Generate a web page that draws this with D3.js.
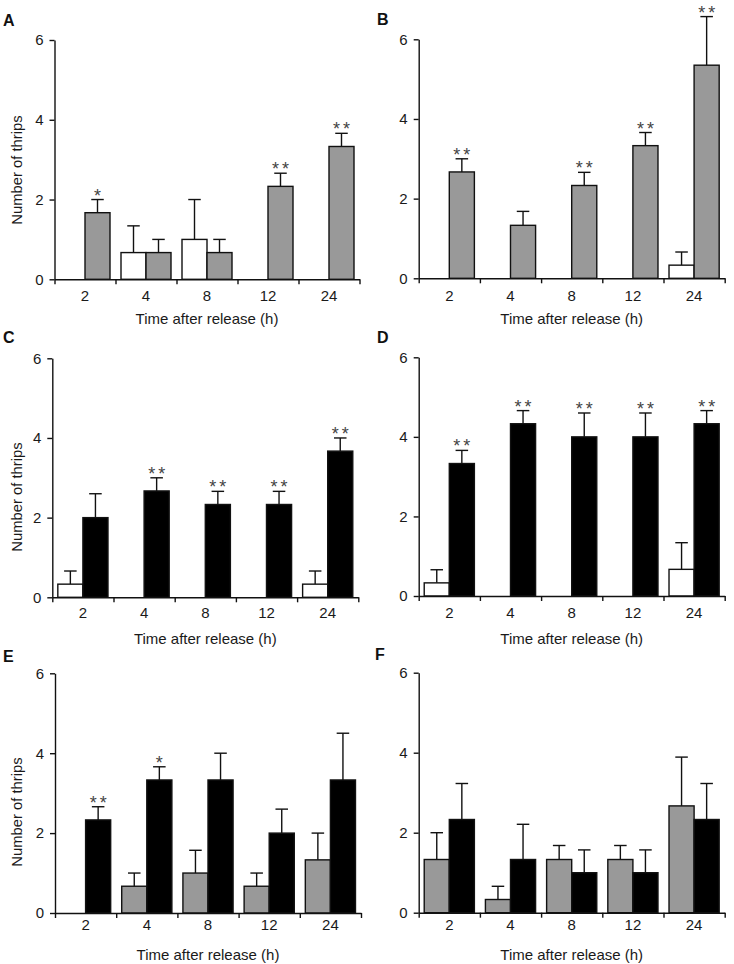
<!DOCTYPE html>
<html>
<head>
<meta charset="utf-8">
<script src="https://cdn.jsdelivr.net/npm/d3@7"></script>
<style>
  html, body { margin: 0; padding: 0; background: #fff; }
  svg { display: block; font-family: "Liberation Sans", Arial, sans-serif; }
</style>
</head>
<body>
<svg id="chart" width="734" height="964"></svg>
<script>
// ---------------- data ----------------
const categories = ["2", "4", "8", "12", "24"];
const yTickValues = [0, 2, 4, 6];
const xTitle = "Time after release (h)";
const yTitle = "Number of thrips";

// Panel A (white vs gray)
const aFirst = [0, 0.67, 1.0, 0, 0];
const aFirstErr = [0, 0.67, 1.0, 0, 0];
const aSecond = [1.67, 0.67, 0.67, 2.33, 3.33];
const aSecondErr = [0.33, 0.33, 0.33, 0.33, 0.33];
const aSig = ["*", "", "", "**", "**"];

// Panel B (white vs gray)
const bFirst = [0, 0, 0, 0, 0.33];
const bFirstErr = [0, 0, 0, 0, 0.33];
const bSecond = [2.67, 1.33, 2.33, 3.33, 5.35];
const bSecondErr = [0.33, 0.35, 0.33, 0.33, 1.22];
const bSig = ["**", "", "**", "**", "**"];

// Panel C (white vs black)
const cFirst = [0.33, 0, 0, 0, 0.33];
const cFirstErr = [0.33, 0, 0, 0, 0.33];
const cSecond = [2.0, 2.67, 2.33, 2.33, 3.67];
const cSecondErr = [0.6, 0.33, 0.33, 0.33, 0.33];
const cSig = ["", "**", "**", "**", "**"];

// Panel D (white vs black)
const dFirst = [0.33, 0, 0, 0, 0.67];
const dFirstErr = [0.33, 0, 0, 0, 0.67];
const dSecond = [3.33, 4.33, 4.0, 4.0, 4.33];
const dSecondErr = [0.33, 0.33, 0.6, 0.6, 0.33];
const dSig = ["**", "**", "**", "**", "**"];

// Panel E (gray vs black)
const eFirst = [0, 0.67, 1.0, 0.67, 1.33];
const eFirstErr = [0, 0.33, 0.57, 0.33, 0.67];
const eSecond = [2.33, 3.33, 3.33, 2.0, 3.33];
const eSecondErr = [0.33, 0.33, 0.67, 0.6, 1.17];
const eSig = ["**", "*", "", "", ""];

// Panel F (gray vs black)
const fFirst = [1.33, 0.33, 1.33, 1.33, 2.67];
const fFirstErr = [0.67, 0.33, 0.35, 0.35, 1.22];
const fSecond = [2.33, 1.33, 1.0, 1.0, 2.33];
const fSecondErr = [0.9, 0.88, 0.57, 0.57, 0.9];
const fSig = ["", "", "", "", ""];

// ---------------- styling / layout ----------------
const WHITE = "#ffffff", GRAY = "#999999", BLACK = "#000000";
const TICK_FS = 15, TITLE_FS = 15, YLAB_FS = 14.8, STAR_FS = 18;

const panels = [
  { letter: "A", first: aFirst, firstErr: aFirstErr, second: aSecond, secondErr: aSecondErr, sig: aSig,
    c1: WHITE, c2: GRAY, x0: 54.5, x1: 359.5, y0: 279.3, y6: 40, lx: 3, ly: 26, labDy: 22, titleDy: 45, yLab: true, yLabY: 170 },
  { letter: "B", first: bFirst, firstErr: bFirstErr, second: bSecond, secondErr: bSecondErr, sig: bSig,
    c1: WHITE, c2: GRAY, x0: 418.7, x1: 724.7, y0: 278.3, y6: 39.3, lx: 377, ly: 25, labDy: 23, titleDy: 46, yLab: false },
  { letter: "C", first: cFirst, firstErr: cFirstErr, second: cSecond, secondErr: cSecondErr, sig: cSig,
    c1: WHITE, c2: BLACK, x0: 52.3, x1: 358.3, y0: 597.3, y6: 358.3, lx: 3, ly: 343, labDy: 21, titleDy: 47, yLab: true, yLabY: 497 },
  { letter: "D", first: dFirst, firstErr: dFirstErr, second: dSecond, secondErr: dSecondErr, sig: dSig,
    c1: WHITE, c2: BLACK, x0: 418.7, x1: 724.7, y0: 596, y6: 357.3, lx: 377, ly: 343, labDy: 22, titleDy: 48, yLab: false },
  { letter: "E", first: eFirst, firstErr: eFirstErr, second: eSecond, secondErr: eSecondErr, sig: eSig,
    c1: GRAY, c2: BLACK, x0: 55, x1: 361, y0: 913, y6: 673.3, lx: 3, ly: 662, labDy: 17, titleDy: 47, yLab: true, yLabY: 812 },
  { letter: "F", first: fFirst, firstErr: fFirstErr, second: fSecond, secondErr: fSecondErr, sig: fSig,
    c1: GRAY, c2: BLACK, x0: 418.7, x1: 724.7, y0: 912.7, y6: 672.7, lx: 375, ly: 660, labDy: 17, titleDy: 47, yLab: false }
];

const svg = d3.select("#chart");

panels.forEach(p => {
  const g = svg.append("g");

  const y = d3.scaleLinear().domain([0, 6]).range([p.y0, p.y6]);
  const xBand = d3.scaleBand().domain(categories).range([p.x0, p.x1]).paddingInner(0).paddingOuter(0);
  const xSub = d3.scaleBand().domain([0, 1]).range([0, xBand.bandwidth()]).paddingInner(0).paddingOuter(0.22);
  const xEdges = d3.scaleLinear().domain([0, categories.length]).range([p.x0, p.x1]);

  const series = [
    { vals: p.first, errs: p.firstErr, color: p.c1, sub: 0 },
    { vals: p.second, errs: p.secondErr, color: p.c2, sub: 1 }
  ];
  const capW = xSub.bandwidth() * 0.5;

  series.forEach(s => {
    categories.forEach((c, i) => {
      const v = s.vals[i];
      if (v <= 0) return;
      const bx = xBand(c) + xSub(s.sub);
      const cx = bx + xSub.bandwidth() / 2;
      const top = y(v + s.errs[i]);
      if (s.errs[i] > 0) {
        g.append("line").attr("x1", cx).attr("x2", cx).attr("y1", y(v)).attr("y2", top)
          .attr("stroke", "#111").attr("stroke-width", 1.4);
        g.append("line").attr("x1", cx - capW / 2).attr("x2", cx + capW / 2).attr("y1", top).attr("y2", top)
          .attr("stroke", "#111").attr("stroke-width", 1.4);
      }
      g.append("rect")
        .attr("x", bx).attr("y", y(v))
        .attr("width", xSub.bandwidth()).attr("height", y(0) - y(v))
        .attr("fill", s.color).attr("stroke", "#111").attr("stroke-width", 1.4);
    });
  });

  // significance marks above the second series
  categories.forEach((c, i) => {
    const m = p.sig[i];
    if (!m) return;
    const v = p.second[i] + p.secondErr[i];
    const cx = xBand(c) + xSub(1) + xSub.bandwidth() / 2;
    g.append("text")
      .attr("x", cx + (m.length > 1 ? 1.5 : 0)).attr("y", y(v) + 2)
      .attr("text-anchor", "middle")
      .attr("font-size", STAR_FS).attr("letter-spacing", m.length > 1 ? 3 : 0)
      .attr("fill", "#444")
      .text(m);
  });

  // y axis
  const yAxis = d3.axisLeft(y).tickValues(yTickValues).tickFormat(d3.format("d"))
    .tickSize(5).tickSizeOuter(0).tickPadding(6);
  const ya = g.append("g").attr("transform", `translate(${p.x0},0)`).call(yAxis);
  ya.selectAll("path, line").attr("stroke", "#111").attr("stroke-width", 1.4);
  ya.selectAll("text").attr("font-size", TICK_FS).attr("fill", "#1a1a1a")
    .attr("font-family", "Liberation Sans, Arial, sans-serif");

  // x axis: boundary ticks only
  const xAxis = d3.axisBottom(xEdges).tickValues(d3.range(0, categories.length + 1))
    .tickFormat("").tickSize(5).tickSizeOuter(0);
  const xa = g.append("g").attr("transform", `translate(0,${p.y0})`).call(xAxis);
  xa.selectAll("path, line").attr("stroke", "#111").attr("stroke-width", 1.4);

  // category labels
  g.selectAll("text.cat").data(categories).enter().append("text")
    .attr("class", "cat")
    .attr("x", d => xBand(d) + xBand.bandwidth() / 2)
    .attr("y", p.y0 + p.labDy)
    .attr("text-anchor", "middle").attr("font-size", TICK_FS).attr("fill", "#1a1a1a")
    .text(d => d);

  // x title
  g.append("text")
    .attr("x", (p.x0 + p.x1) / 2).attr("y", p.y0 + p.titleDy)
    .attr("text-anchor", "middle").attr("font-size", TITLE_FS).attr("fill", "#1a1a1a")
    .text(xTitle);

  // y title
  if (p.yLab) {
    g.append("text")
      .attr("transform", `translate(22,${p.yLabY}) rotate(-90)`)
      .attr("text-anchor", "middle").attr("font-size", YLAB_FS).attr("fill", "#1a1a1a")
      .text(yTitle);
  }

  // panel letter
  g.append("text").attr("x", p.lx).attr("y", p.ly)
    .attr("font-size", 16).attr("font-weight", "bold").attr("fill", "#111")
    .text(p.letter);
});
</script>
</body>
</html>
